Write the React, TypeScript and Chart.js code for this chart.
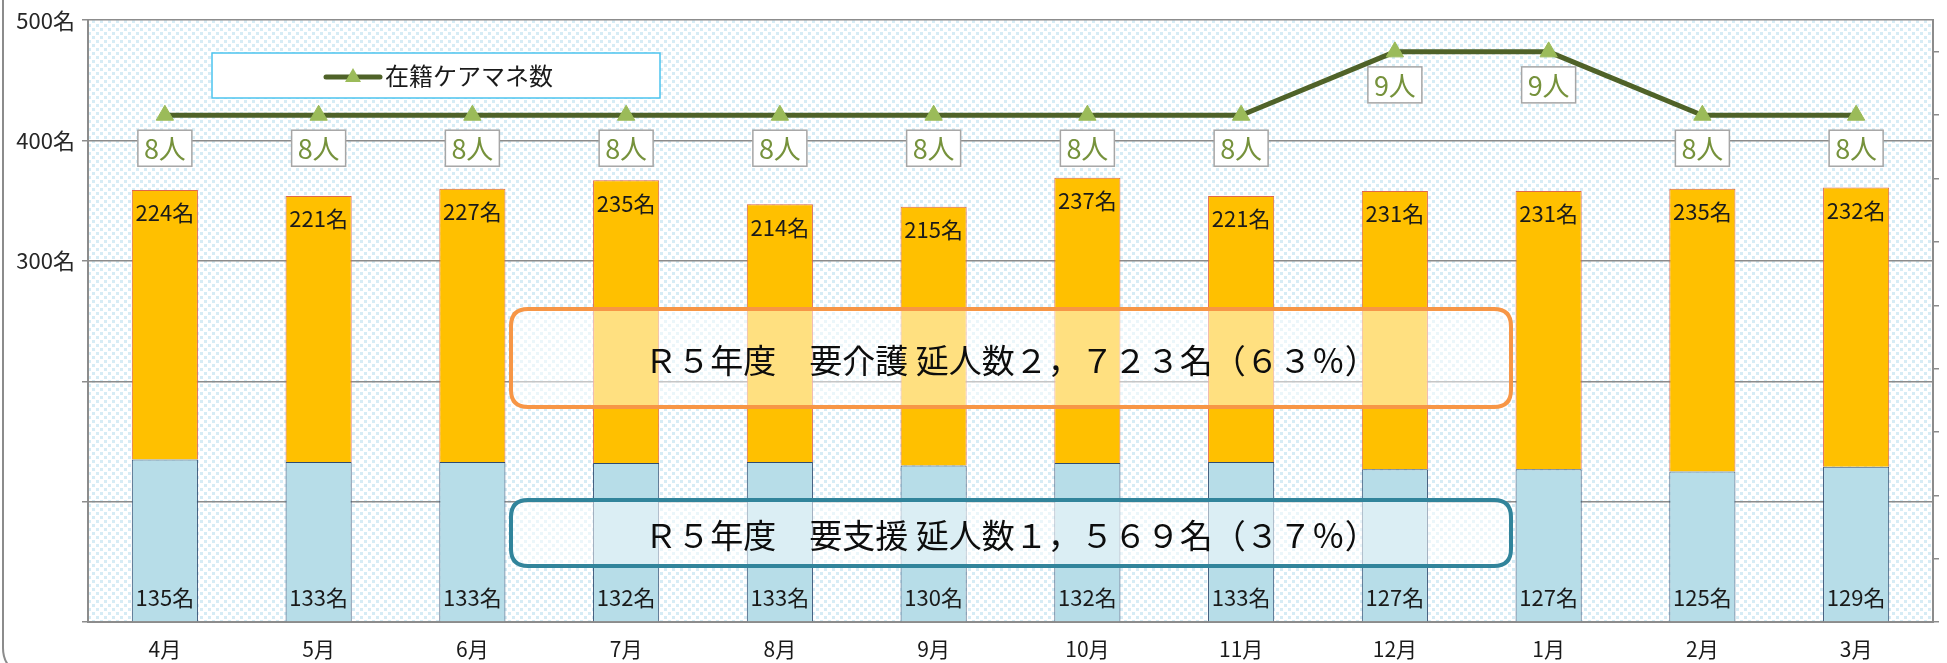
import React, { useEffect, useRef } from 'react';
import { Chart, registerables } from 'chart.js';

Chart.register(...registerables);

const months = ['4月', '5月', '6月', '7月', '8月', '9月', '10月', '11月', '12月', '1月', '2月', '3月'];
const shienCounts = [135, 133, 133, 132, 133, 130, 132, 133, 127, 127, 125, 129];
const kaigoCounts = [224, 221, 227, 235, 214, 215, 237, 221, 231, 231, 235, 232];
const careManagerCounts = [8, 8, 8, 8, 8, 8, 8, 8, 9, 9, 8, 8];
const labeledTicks = [300, 400, 500];
const countUnit = '名';
const personUnit = '人';
const legendLabel = '在籍ケアマネ数';
const kaigoSummary = 'Ｒ５年度　要介護 延人数２，７２３名（６３％）';
const shienSummary = 'Ｒ５年度　要支援 延人数１，５６９名（３７％）';

const JP = '"Noto Sans CJK JP", "Noto Sans", sans-serif';

function makePattern(ctx: CanvasRenderingContext2D) {
  const c = document.createElement('canvas');
  c.width = 8;
  c.height = 8;
  const g = c.getContext('2d')!;
  g.fillStyle = '#ffffff';
  g.fillRect(0, 0, 8, 8);
  g.fillStyle = '#d6ecf5';
  g.fillRect(0, 0, 3, 3);
  g.fillRect(4, 4, 3, 3);
  return ctx.createPattern(c, 'repeat');
}

function rrect(ctx: CanvasRenderingContext2D, x: number, y: number, w: number, h: number, r: number) {
  ctx.beginPath();
  ctx.moveTo(x + r, y);
  ctx.lineTo(x + w - r, y);
  ctx.quadraticCurveTo(x + w, y, x + w, y + r);
  ctx.lineTo(x + w, y + h - r);
  ctx.quadraticCurveTo(x + w, y + h, x + w - r, y + h);
  ctx.lineTo(x + r, y + h);
  ctx.quadraticCurveTo(x, y + h, x, y + h - r);
  ctx.lineTo(x, y + r);
  ctx.quadraticCurveTo(x, y, x + r, y);
  ctx.closePath();
}

const decorPlugin = {
  id: 'decor',
  beforeDraw(chart: any) {
    const { ctx, chartArea: a } = chart;
    ctx.save();
    ctx.fillStyle = '#ffffff';
    ctx.fillRect(0, 0, chart.width, chart.height);
    const p = makePattern(ctx);
    if (p) ctx.fillStyle = p;
    ctx.fillRect(a.left, a.top, a.right - a.left, a.bottom - a.top);
    ctx.restore();
  },
  afterDatasetsDraw(chart: any) {
    const { ctx } = chart;
    const yScale = chart.scales.y;
    ctx.save();
    ctx.textAlign = 'center';
    ctx.textBaseline = 'middle';
    ctx.font = `22px ${JP}`;
    ctx.fillStyle = '#1a1a1a';
    const zeroY = yScale.getPixelForValue(0);
    chart.getDatasetMeta(0).data.forEach((el: any, i: number) => {
      ctx.fillText(shienCounts[i] + countUnit, el.x, zeroY - 24);
    });
    chart.getDatasetMeta(1).data.forEach((el: any, i: number) => {
      ctx.fillText(kaigoCounts[i] + countUnit, el.x, el.y + 23);
    });
    ctx.font = `27px ${JP}`;
    chart.getDatasetMeta(2).data.forEach((el: any, i: number) => {
      const bw = 54;
      const bh = 36;
      const bx = el.x - bw / 2;
      const by = el.y + 15;
      ctx.fillStyle = '#ffffff';
      ctx.fillRect(bx, by, bw, bh);
      ctx.strokeStyle = '#a6a6a6';
      ctx.lineWidth = 1.5;
      ctx.strokeRect(bx, by, bw, bh);
      ctx.fillStyle = '#76923c';
      ctx.fillText(careManagerCounts[i] + personUnit, el.x, by + bh / 2 + 1);
    });
    ctx.restore();
  },
  afterDraw(chart: any) {
    const { ctx, chartArea: a } = chart;
    ctx.save();
    const drawBox = (x: number, y: number, w: number, h: number, color: string, text: string) => {
      rrect(ctx, x, y, w, h, 17);
      ctx.fillStyle = 'rgba(255,255,255,0.5)';
      ctx.fill();
      ctx.strokeStyle = color;
      ctx.lineWidth = 4;
      ctx.stroke();
      ctx.fillStyle = '#0d0d0d';
      ctx.font = `33px ${JP}`;
      ctx.textAlign = 'center';
      ctx.textBaseline = 'middle';
      ctx.fillText(text, x + w / 2, y + h / 2 + 2);
    };
    drawBox(a.left + 423, 309, 1000, 98, '#f79646', kaigoSummary);
    drawBox(a.left + 423, 500, 1000, 66, '#31849b', shienSummary);

    const lx = a.left + 124;
    const ly = 53;
    ctx.fillStyle = '#ffffff';
    ctx.fillRect(lx, ly, 448, 45);
    ctx.strokeStyle = '#4cc3ee';
    ctx.lineWidth = 1.5;
    ctx.strokeRect(lx, ly, 448, 45);
    ctx.strokeStyle = '#4f6228';
    ctx.lineWidth = 5;
    ctx.lineCap = 'round';
    ctx.beginPath();
    ctx.moveTo(lx + 114, ly + 24);
    ctx.lineTo(lx + 168, ly + 24);
    ctx.stroke();
    ctx.fillStyle = '#9bbb59';
    ctx.beginPath();
    const tx = lx + 141;
    const ty = ly + 24;
    ctx.moveTo(tx, ty - 9);
    ctx.lineTo(tx + 8, ty + 5);
    ctx.lineTo(tx - 8, ty + 5);
    ctx.closePath();
    ctx.fill();
    ctx.fillStyle = '#1a1a1a';
    ctx.font = `24px ${JP}`;
    ctx.textAlign = 'left';
    ctx.textBaseline = 'middle';
    ctx.fillText(legendLabel, lx + 173, ly + 23);

    ctx.strokeStyle = '#8c8c8c';
    ctx.lineWidth = 2;
    ctx.lineCap = 'butt';
    ctx.beginPath();
    ctx.moveTo(3, 0);
    ctx.lineTo(3, 648);
    ctx.quadraticCurveTo(3, 660, 10, 667);
    ctx.stroke();
    ctx.restore();
  },
};

export default function App() {
  const ref = useRef<HTMLCanvasElement | null>(null);
  useEffect(() => {
    if (!ref.current) return;
    Chart.defaults.font.family = JP;
    const chart = new Chart(ref.current, {
      type: 'bar',
      data: {
        labels: months,
        datasets: [
          {
            type: 'bar',
            label: '要支援',
            data: shienCounts,
            backgroundColor: '#b7dde8',
            borderColor: '#2f4b70',
            borderWidth: 1,
            yAxisID: 'y',
            stack: 's',
            order: 1,
            barPercentage: 0.43,
            categoryPercentage: 1,
          },
          {
            type: 'bar',
            label: '要介護',
            data: kaigoCounts,
            backgroundColor: '#ffc000',
            borderColor: '#e0664a',
            borderWidth: 1,
            yAxisID: 'y',
            stack: 's',
            order: 1,
            barPercentage: 0.43,
            categoryPercentage: 1,
          },
          {
            type: 'line',
            label: legendLabel,
            data: careManagerCounts,
            yAxisID: 'y1',
            borderColor: '#4f6228',
            borderWidth: 5,
            pointStyle: 'triangle',
            pointRadius: 10,
            pointBackgroundColor: '#9bbb59',
            pointBorderColor: '#9bbb59',
            pointBorderWidth: 1,
            tension: 0,
            order: 0,
          } as any,
        ],
      },
      options: {
        responsive: false,
        animation: false,
        devicePixelRatio: 1,
        layout: { padding: { top: 15, left: 0, right: 0, bottom: 0 } },
        plugins: {
          legend: { display: false },
          tooltip: { enabled: false },
        },
        scales: {
          x: {
            stacked: true,
            grid: { display: false, drawTicks: false },
            border: { display: true, color: '#8c8c8c', width: 2 },
            ticks: { color: '#1a1a1a', font: { size: 21, family: JP }, padding: 14 },
            afterFit: (s: any) => { s.height = 41; },
          },
          y: {
            stacked: true,
            position: 'left',
            min: 0,
            max: 500,
            ticks: {
              stepSize: 100,
              color: '#262626',
              font: { size: 22, family: JP },
              padding: 7,
              callback: (v: any) => (labeledTicks.includes(Number(v)) ? v + countUnit : ''),
            },
            grid: { color: '#8c8c8c', lineWidth: 1.5, tickLength: 6 },
            border: { display: true, color: '#8c8c8c', width: 2 },
            afterFit: (s: any) => { s.width = 88; },
          },
          y1: {
            position: 'right',
            min: 0,
            max: 9.5,
            ticks: { stepSize: 1, callback: () => '' },
            afterBuildTicks: (s: any) => {
              s.ticks = s.ticks.filter((t: any) => Number.isInteger(t.value));
            },
            grid: { drawOnChartArea: false, drawTicks: true, tickLength: 6, color: '#8c8c8c', lineWidth: 1.5 },
            border: { display: true, color: '#8c8c8c', width: 2 },
            afterFit: (s: any) => { s.width = 14; },
          },
        },
      } as any,
      plugins: [decorPlugin],
    });
    return () => chart.destroy();
  }, []);
  return (
    <div style={{ position: 'absolute', left: 0, top: 0, width: 1947, height: 663, background: '#fff' }}>
      <canvas ref={ref} width={1947} height={663} style={{ display: 'block', width: 1947, height: 663 }} />
    </div>
  );
}
